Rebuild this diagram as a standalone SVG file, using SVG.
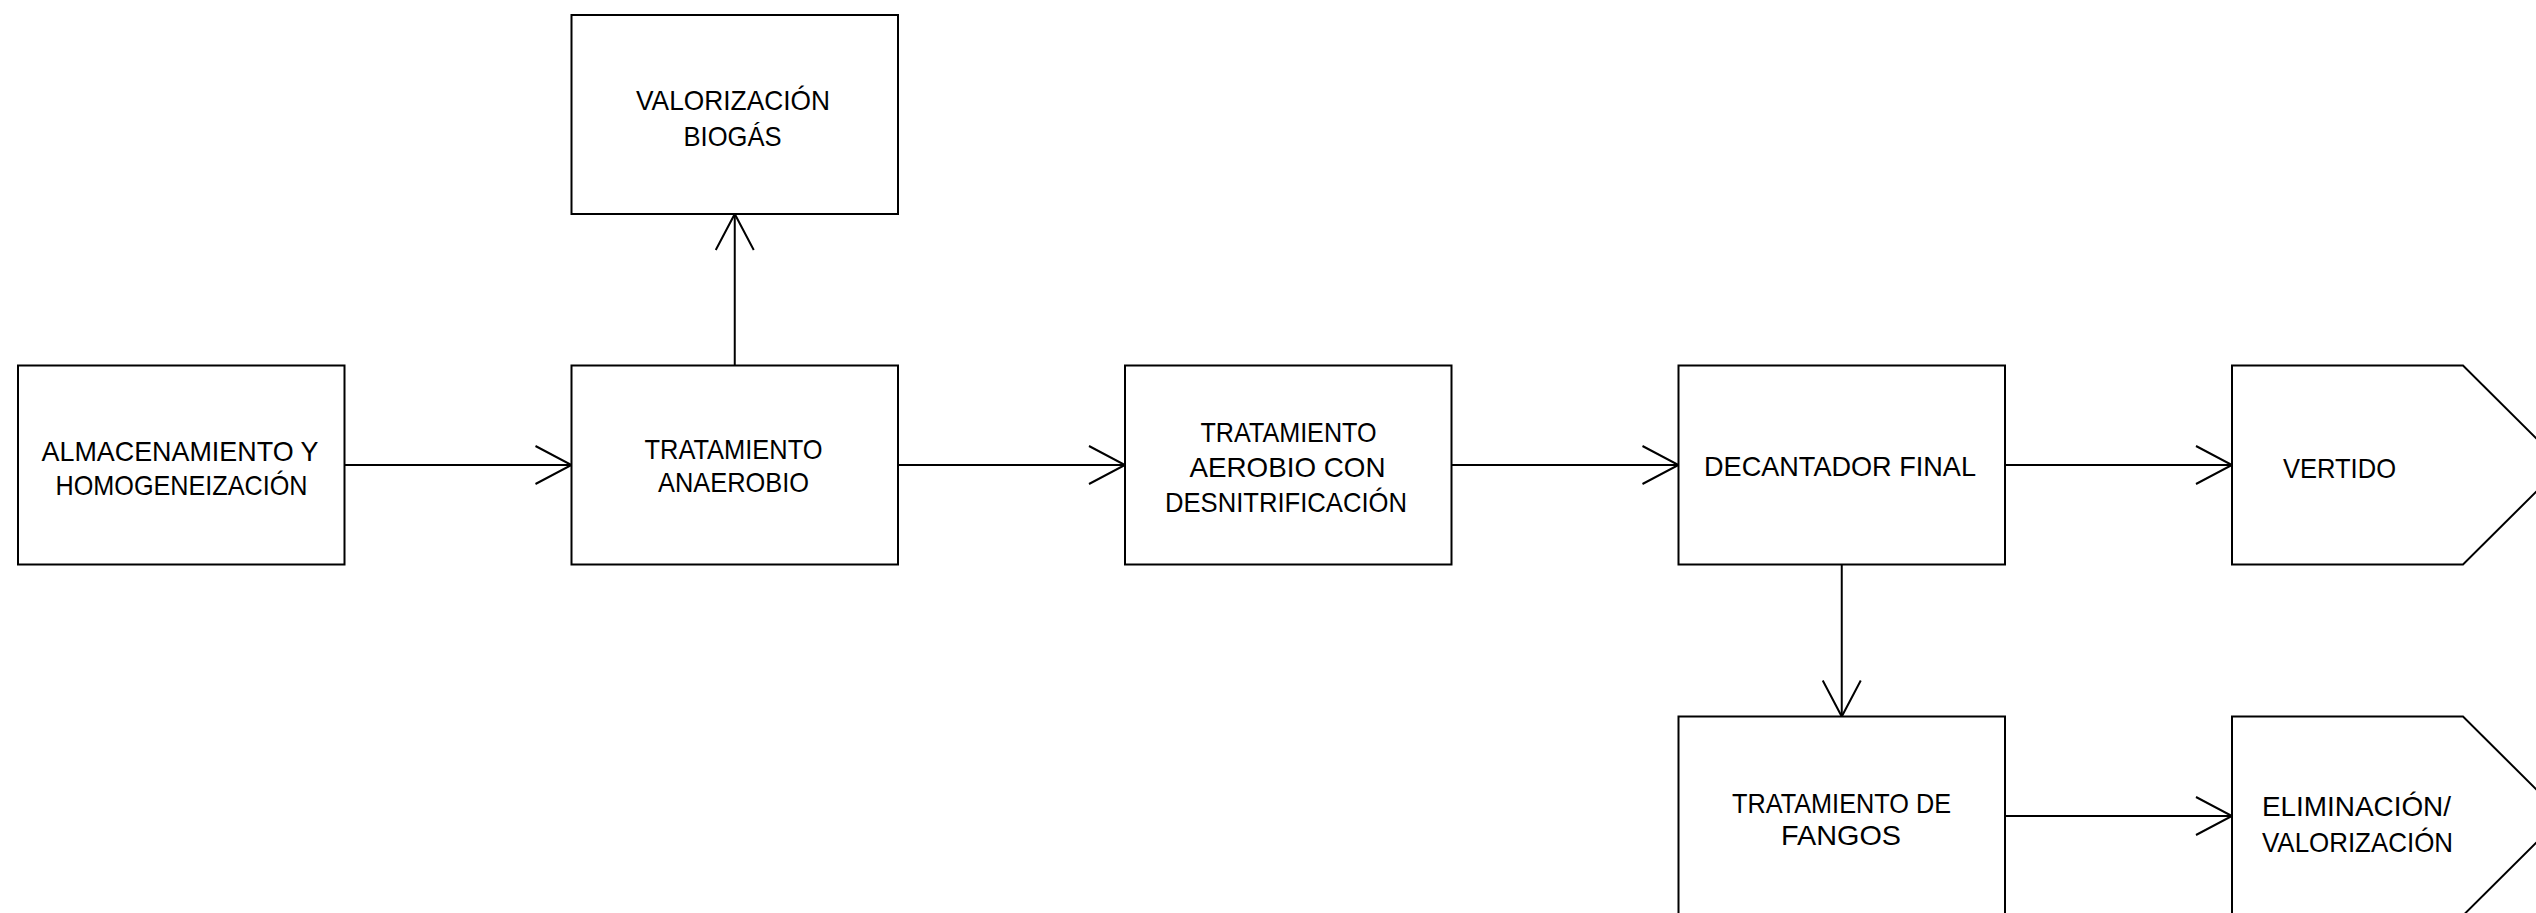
<svg xmlns="http://www.w3.org/2000/svg" width="2536" height="913" viewBox="0 0 2536 913">
  <style>
    .box { fill: #ffffff; stroke: #000000; stroke-width: 2; }
    .flow { fill: none; stroke: #000000; stroke-width: 2; }
    .lbl { font-family: "Liberation Sans", Arial, sans-serif; font-size: 28px; fill: #000000; }
    .mid { text-anchor: middle; }
  </style>
  <defs>
    <marker id="open" viewBox="-40 -22 42 44" markerWidth="42" markerHeight="44" refX="0" refY="0" markerUnits="userSpaceOnUse" orient="auto" overflow="visible">
      <path d="M-36,-19 L0,0 L-36,19" fill="none" stroke="#000000" stroke-width="2"/>
    </marker>
  </defs>
  <rect width="2536" height="913" fill="#ffffff"/>

  <!-- connectors -->
  <g id="connectors">
    <line class="flow" x1="344.5" y1="465" x2="571.5" y2="465" marker-end="url(#open)"/>
    <line class="flow" x1="898" y1="465" x2="1125" y2="465" marker-end="url(#open)"/>
    <line class="flow" x1="1451.5" y1="465" x2="1678.5" y2="465" marker-end="url(#open)"/>
    <line class="flow" x1="2005" y1="465" x2="2232" y2="465" marker-end="url(#open)"/>
    <line class="flow" x1="734.75" y1="365.5" x2="734.75" y2="214" marker-end="url(#open)"/>
    <line class="flow" x1="1841.75" y1="564.5" x2="1841.75" y2="716.5" marker-end="url(#open)"/>
    <line class="flow" x1="2005" y1="816" x2="2232" y2="816" marker-end="url(#open)"/>
  </g>

  <!-- storage / homogenisation -->
  <g id="almacenamiento">
    <rect class="box" x="18" y="365.5" width="326.5" height="199"/>
    <text class="lbl mid" x="180" y="461" textLength="277" lengthAdjust="spacingAndGlyphs">ALMACENAMIENTO  Y</text>
    <text class="lbl mid" x="181.5" y="495" textLength="252" lengthAdjust="spacingAndGlyphs">HOMOGENEIZACIÓN</text>
  </g>

  <!-- anaerobic treatment -->
  <g id="anaerobio">
    <rect class="box" x="571.5" y="365.5" width="326.5" height="199"/>
    <text class="lbl mid" x="733.5" y="459" textLength="178" lengthAdjust="spacingAndGlyphs">TRATAMIENTO</text>
    <text class="lbl mid" x="733.5" y="492" textLength="151" lengthAdjust="spacingAndGlyphs">ANAEROBIO</text>
  </g>

  <!-- biogas recovery -->
  <g id="biogas">
    <rect class="box" x="571.5" y="15" width="326.5" height="199"/>
    <text class="lbl mid" x="733" y="110" textLength="194" lengthAdjust="spacingAndGlyphs">VALORIZACIÓN</text>
    <text class="lbl mid" x="732.5" y="146" textLength="98" lengthAdjust="spacingAndGlyphs">BIOGÁS</text>
  </g>

  <!-- aerobic treatment with denitrification -->
  <g id="aerobio">
    <rect class="box" x="1125" y="365.5" width="326.5" height="199"/>
    <text class="lbl mid" x="1288.5" y="442" textLength="176" lengthAdjust="spacingAndGlyphs">TRATAMIENTO</text>
    <text class="lbl mid" x="1287.5" y="477" textLength="196" lengthAdjust="spacingAndGlyphs">AEROBIO  CON</text>
    <text class="lbl mid" x="1286" y="512" textLength="242" lengthAdjust="spacingAndGlyphs">DESNITRIFICACIÓN</text>
  </g>

  <!-- final clarifier -->
  <g id="decantador">
    <rect class="box" x="1678.5" y="365.5" width="326.5" height="199"/>
    <text class="lbl mid" x="1840" y="476" textLength="272" lengthAdjust="spacingAndGlyphs">DECANTADOR  FINAL</text>
  </g>

  <!-- discharge -->
  <g id="vertido">
    <polygon class="box" points="2232,365.5 2463,365.5 2563,465 2463,564.5 2232,564.5"/>
    <text class="lbl" x="2283" y="478" textLength="113" lengthAdjust="spacingAndGlyphs">VERTIDO</text>
  </g>

  <!-- sludge treatment -->
  <g id="fangos">
    <rect class="box" x="1678.5" y="716.5" width="326.5" height="199"/>
    <text class="lbl mid" x="1841.5" y="813" textLength="219" lengthAdjust="spacingAndGlyphs">TRATAMIENTO  DE</text>
    <text class="lbl mid" x="1841" y="845" textLength="120" lengthAdjust="spacingAndGlyphs">FANGOS</text>
  </g>

  <!-- disposal / recovery -->
  <g id="eliminacion">
    <polygon class="box" points="2232,716.5 2463,716.5 2563,816 2463,915.5 2232,915.5"/>
    <text class="lbl" x="2262" y="816" textLength="189" lengthAdjust="spacingAndGlyphs">ELIMINACIÓN/</text>
    <text class="lbl" x="2262" y="852" textLength="191" lengthAdjust="spacingAndGlyphs">VALORIZACIÓN</text>
  </g>
</svg>
